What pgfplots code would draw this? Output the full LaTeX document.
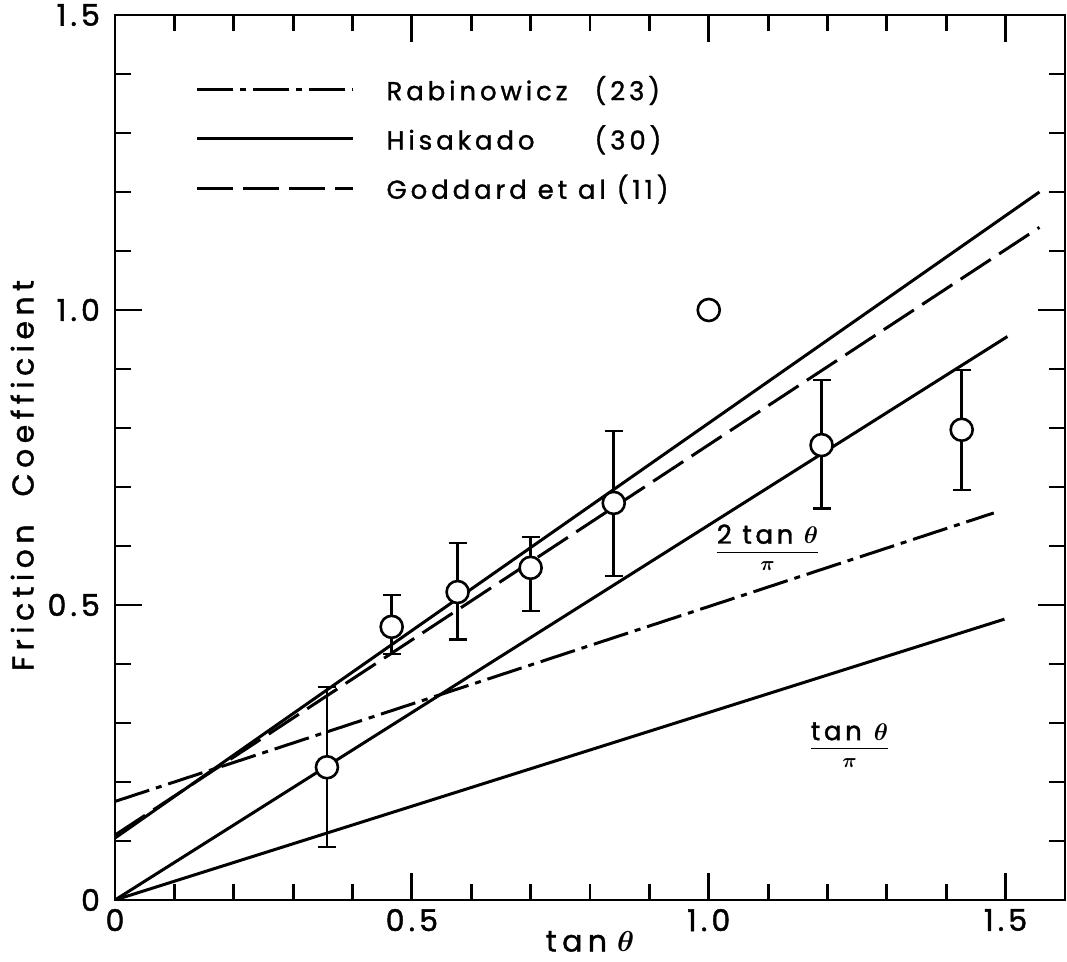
\documentclass[border=0pt]{standalone}
\usepackage{amsmath}
\usepackage{fontspec}
\setmainfont{Poppins}
\newfontfamily\wide[LetterSpace=14, FakeBold=1.5]{Poppins}
\newfontfamily\wider[LetterSpace=18, FakeBold=1.2]{Poppins}
\newfontfamily\legendfont[LetterSpace=15, FakeBold=1.2]{Poppins}
\newcommand{\tl}[1]{\text{\fontsize{15}{17}\wide #1}}
\usepackage{pgfplots}
\pgfplotsset{compat=1.18}

% measured friction data: x, mean, upper and lower scatter
\pgfplotstableread{
x      y      ep     em
0.357  0.225  0.136  0.135
0.466  0.463  0.054  0.046
0.577  0.522  0.083  0.080
0.700  0.563  0.052  0.073
0.840  0.673  0.122  0.124
1.190  0.771  0.110  0.107
1.426  0.797  0.101  0.102
}\measured

\begin{document}
\begin{tikzpicture}
\begin{axis}[
  scale only axis,
  width=475pt, height=442.5pt,
  xmin=0, xmax=1.6, ymin=0, ymax=1.5,
  axis line style={line width=1.4pt},
  tick align=inside,
  xtick={0,0.5,1,1.5}, xticklabels={\tl{0},\tl{0.5},\tl{1.0},\tl{1.5}},
  ytick={0,0.5,1,1.5}, yticklabels={\tl{0},\tl{0.5},\tl{1.0},\tl{1.5}},
  minor x tick num=4, minor y tick num=4,
  major tick length=13.5pt, minor tick length=8pt,
  every tick/.style={black, line width=1.4pt},
  xticklabel style={yshift=-1pt},
  yticklabel style={xshift=-4pt},
  xlabel={\fontsize{15}{17}\wider tan\hspace{5pt}$\boldsymbol{\theta}$},
  ylabel={\fontsize{15}{17}\wider Friction\hspace{14pt}Coefficient},
  xlabel style={yshift=7pt},
  ylabel style={yshift=0pt, xshift=-9pt},
  legend style={at={(axis cs:0.135,1.29)}, anchor=west, draw=none, fill=none,
    inner sep=0pt, row sep=11pt, font=\fontsize{13}{15}\legendfont,
    nodes={inner sep=0pt}},
  legend cell align=left,
  legend image code/.code={\draw[#1] (0pt,0pt) -- (78pt,0pt);},
]
\coordinate (bl) at (rel axis cs:0,0);
\coordinate (tr) at (rel axis cs:1,1);

% theoretical lines
\addplot[black, line width=1.5pt, dash pattern=on 18pt off 3.5pt on 3pt off 3.5pt]
  coordinates {(0,0.167) (1.48,0.656)};
\addlegendentry{\hspace{16pt}\makebox[104pt][l]{Rabinowicz}(23)}
\addplot[black, line width=1.5pt] coordinates {(0,0.105) (1.557,1.200)};
\addlegendentry{\hspace{16pt}\makebox[104pt][l]{Hisakado}(30)}
\addplot[black, line width=1.5pt, dash pattern=on 18pt off 5pt]
  coordinates {(0,0.110) (1.557,1.140)};
\addlegendentry{\hspace{16pt}Goddard et al (11)}
\addplot[black, line width=1.5pt, forget plot] coordinates {(0,0) (1.503,0.955)};
\addplot[black, line width=1.5pt, forget plot] coordinates {(0,0) (1.498,0.476)};

% measured values with scatter bands
\addplot[black, only marks, line width=1.3pt, forget plot,
  mark=*, mark size=5.5pt, mark options={fill=white, line width=1.3pt},
  error bars/.cd, y dir=both, y explicit,
  error mark options={rotate=90, mark size=4.5pt, line width=1.3pt},
  error bar style={line width=1.3pt}]
  table[x=x, y=y, y error plus=ep, y error minus=em] {\measured};
\addplot[black, only marks, forget plot, mark=*, mark size=5.5pt,
  mark options={fill=white, line width=1.3pt}] coordinates {(1.0,1.0)};

\node at (axis cs:1.099,0.597) {$\dfrac{\text{\fontsize{13}{15}\wide 2 tan $\boldsymbol{\theta}$}}{\boldsymbol{\pi}}$};
\node at (axis cs:1.237,0.263) {$\dfrac{\text{\fontsize{13}{15}\wide tan\hspace{6pt}$\boldsymbol{\theta}$}}{\boldsymbol{\pi}}$};
\end{axis}
\pgfresetboundingbox
\path[use as bounding box] ([shift={(-57.5pt,-31pt)}]bl) rectangle ([shift={(1pt,7.5pt)}]tr);
\end{tikzpicture}
\end{document}
